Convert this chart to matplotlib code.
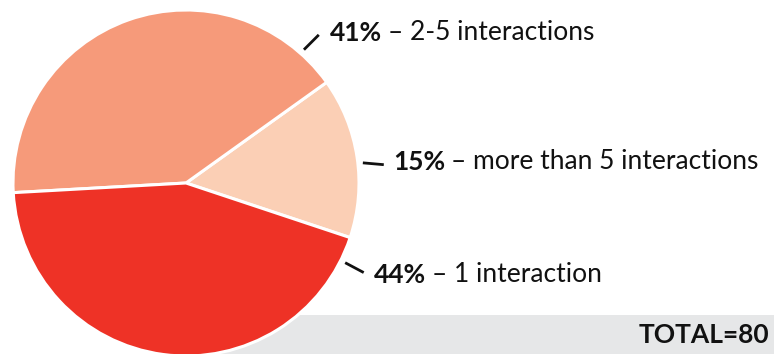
import numpy as np
import matplotlib
matplotlib.use("Agg")
from matplotlib import pyplot as plt
from matplotlib.patches import Rectangle

plt.rcParams['font.family'] = ['Lato', 'DejaVu Sans']

# data
labels = ["more than 5 interactions", "2-5 interactions", "1 interaction"]
shares = [15, 41, 44]
colors = ["#FBCFB5", "#F69A7A", "#EE3226"]
total = 80

W, H = 774, 354
FS = 19
fig = plt.figure(figsize=(W / 100, H / 100), dpi=100)
ax = fig.add_axes([0, 0, 1, 1])

# pie geometry in pixel-like data units (y up)
cx, cy, R = 186, 354 - 183, 173

# grey total band, sitting behind the pie
ax.add_patch(Rectangle((200, 0), W - 200, 354 - 315, facecolor="#E6E7E8",
                       edgecolor="none", zorder=0))
ax.text(W - 5, 19, f"TOTAL={total}", ha="right", va="center",
        fontsize=FS, fontweight="bold", color="#111111", zorder=3)

wedges, _ = ax.pie(shares, colors=colors, startangle=-18.4, counterclock=True,
                   center=(cx, cy), radius=R,
                   wedgeprops=dict(edgecolor="white", linewidth=2.2))
for w in wedges:
    w.set_zorder(2)

ax.set_xlim(0, W)
ax.set_ylim(0, H)
ax.set_aspect("equal")
ax.axis("off")

# leader line angles (deg) and label offsets (layout)
label_ang = [6.5, 48.5, -26.6]
line_len = [21, 21, 21]
line_dir = [-5, 45, -28]
txt_gap = [9, 11, 10]
txt_dy = [3, 2, -2]

fig.canvas.draw()
renderer = fig.canvas.get_renderer()
for i, (lab, s) in enumerate(zip(labels, shares)):
    a = np.radians(label_ang[i])
    x0, y0 = cx + (R + 5) * np.cos(a), cy + (R + 5) * np.sin(a)
    d = np.radians(line_dir[i])
    x1, y1 = x0 + line_len[i] * np.cos(d), y0 + line_len[i] * np.sin(d)
    ax.plot([x0, x1], [y0, y1], color="#111111", lw=2, solid_capstyle="butt", zorder=3)
    tx = x1 + txt_gap[i]
    ty = y1 + txt_dy[i]
    t1 = ax.text(tx, ty, f"{s}%", ha="left", va="center", fontsize=FS,
                 fontweight="bold", color="#111111")
    bb = t1.get_window_extent(renderer)
    ax.text(bb.x1 + 6, ty, f"\u2013 {lab}", ha="left", va="center",
            fontsize=FS, color="#111111")

fig.savefig("out.png", dpi=100)
